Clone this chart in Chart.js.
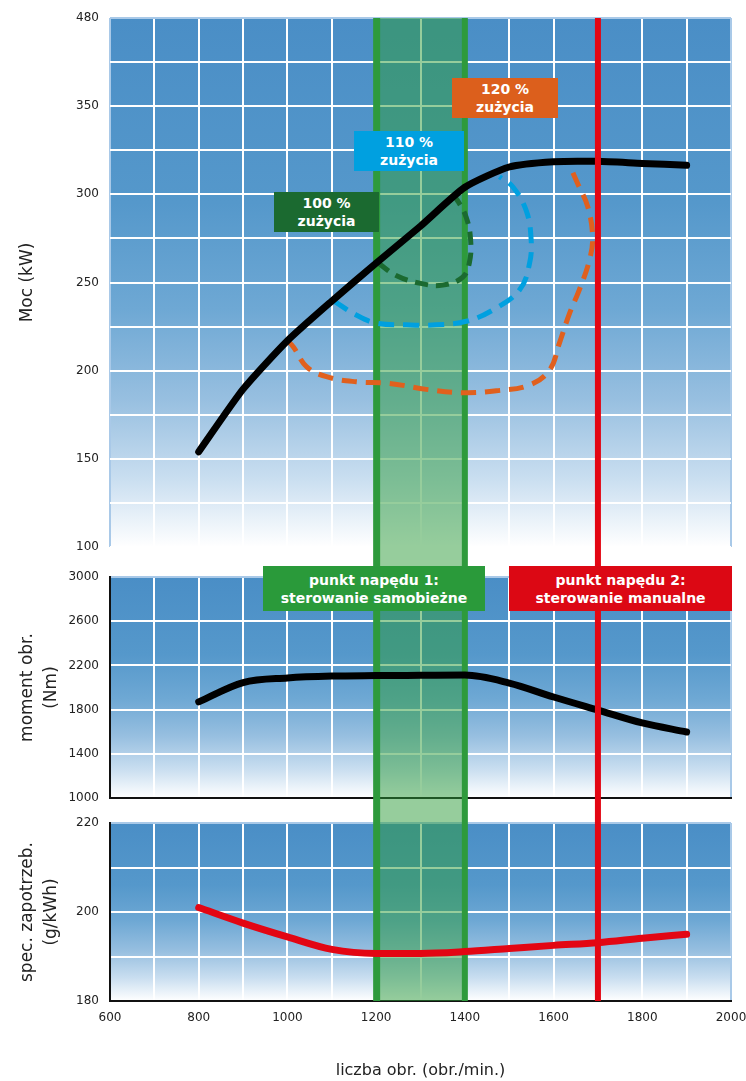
<!DOCTYPE html>
<html>
<head>
<meta charset="utf-8">
<script src="https://cdn.jsdelivr.net/npm/chart.js@4.4.1/dist/chart.umd.min.js"></script>
<style>
  body { margin: 0; background: #fff; }
  #wrap { position: relative; width: 746px; height: 1081px; overflow: hidden; font-family: 'DejaVu Sans', sans-serif; }
  canvas { position: absolute; left: 0; }
  .tag { position: absolute; display: flex; align-items: center; justify-content: center; text-align: center;
         color: #fff; font-weight: bold; font-size: 14px; line-height: 18px; }
</style>
</head>
<body>
<div id="wrap">
  <canvas id="powerChart" width="746" height="562" style="top:0"></canvas>
  <canvas id="torqueChart" width="746" height="248" style="top:562px"></canvas>
  <canvas id="fuelChart" width="746" height="271" style="top:810px"></canvas>

  <div class="tag" style="left:274px;top:192px;width:105px;height:40px;background:#1b6a30">100 %<br>zużycia</div>
  <div class="tag" style="left:354px;top:131px;width:110px;height:40px;background:#00a0e0">110 %<br>zużycia</div>
  <div class="tag" style="left:452px;top:78px;width:106px;height:40px;background:#dc5f1c">120 %<br>zużycia</div>
  <div class="tag" style="left:263px;top:566px;width:222px;height:45px;background:#2a9a3a">punkt napędu 1:<br>sterowanie samobieżne</div>
  <div class="tag" style="left:509px;top:566px;width:223px;height:45px;background:#dc0814">punkt napędu 2:<br>sterowanie manualne</div>
</div>

<script>
// obroty silnika (obr./min.)
const rpm = [800, 900, 1000, 1100, 1200, 1300, 1400, 1500, 1600, 1700, 1800, 1900];
// moc (kW)
const power = [154, 189.5, 217, 239.5, 261, 282, 304, 315.5, 318.5, 318.7, 317.5, 316.5];
// moment obrotowy (Nm)
const torque = [1870, 2045, 2087, 2104, 2108, 2110, 2112, 2040, 1914, 1796, 1679, 1597];
// jednostkowe zuzycie paliwa (g/kWh)
const consumption = [201, 197.5, 194.4, 191.6, 190.7, 190.7, 191.1, 191.8, 192.5, 193.1, 194.1, 195];

// krzywe zuzycia (petle przerywane)
const load100Rpm = [1205, 1245, 1300, 1350, 1395, 1410, 1413, 1403, 1382, 1370];
const load100Kw  = [261, 254, 249.5, 248.5, 253, 261, 274, 287, 297, 300];
const load110Rpm = [1105, 1155, 1200, 1268, 1335, 1403, 1463, 1523, 1546, 1549, 1538, 1508, 1478];
const load110Kw  = [239.5, 231.6, 227, 226, 226, 228, 234.4, 245.7, 261, 276, 291, 304.3, 310];
const load120Rpm = [998, 1013, 1043, 1088, 1155, 1230, 1313, 1395, 1471, 1546, 1591, 1613, 1636, 1658, 1681, 1688, 1677, 1654, 1636];
const load120Kw  = [217.5, 213.6, 202.3, 196.6, 193.7, 192.8, 189.4, 187.5, 188.6, 191.9, 200.4, 215.5, 232.5, 245.8, 262.8, 276, 293, 306.3, 316.6];

// zakres pracy 1 i punkt 2
const driveBand = [1200, 1400];
const drivePoint2 = 1700;

// etykiety osi
const rpmTicks = [600, 800, 1000, 1200, 1400, 1600, 1800, 2000];
const powerTicks = [100, 150, 200, 250, 300, 350, 400];
const powerTickLabels = ['100', '150', '200', '250', '300', '350', '480'];

const pts = (xs, ys) => xs.map((x, i) => ({ x: x, y: ys[i] }));

Chart.defaults.font.family = "'DejaVu Sans', sans-serif";
Chart.defaults.font.size = 12;
Chart.defaults.color = '#222';

const bgStops = [[0, '#4a8ec6'], [0.35, '#5598cb'], [0.55, '#6ea8d4'], [0.72, '#97bfe0'], [0.87, '#c9def0'], [1, '#ffffff']];

const panelPlugin = {
  id: 'panel',
  beforeDraw(chart) {
    const { ctx, chartArea: a } = chart;
    const g = ctx.createLinearGradient(0, a.top, 0, a.bottom);
    bgStops.forEach(s => g.addColorStop(s[0], s[1]));
    ctx.save();
    ctx.fillStyle = g;
    ctx.fillRect(a.left, a.top, a.right - a.left, a.bottom - a.top);
    ctx.restore();
  },
  beforeDatasetsDraw(chart, args, opts) {
    const { ctx, chartArea: a } = chart;
    const x = chart.scales.x;
    const y0 = opts.fromTop ? a.top : 0;
    const y1 = opts.toBottom ? a.bottom : chart.height;
    const l = x.getPixelForValue(driveBand[0]);
    const r = x.getPixelForValue(driveBand[1]);
    ctx.save();
    ctx.fillStyle = 'rgba(46,155,58,0.5)';
    ctx.fillRect(l, y0, r - l, y1 - y0);
    ctx.fillStyle = '#2e9a3c';
    ctx.fillRect(l - 3, y0, 7, y1 - y0);
    ctx.fillRect(r - 3, y0, 6, y1 - y0);
    ctx.restore();
  },
  afterDatasetsDraw(chart, args, opts) {
    const { ctx, chartArea: a } = chart;
    const y0 = opts.fromTop ? a.top : 0;
    const y1 = opts.toBottom ? a.bottom : chart.height;
    const px = chart.scales.x.getPixelForValue(drivePoint2);
    ctx.save();
    ctx.fillStyle = '#e30613';
    ctx.fillRect(px - 3, y0, 6, y1 - y0);
    ctx.restore();
  }
};

const xEdge = (c) => (c.index === 0 || c.index === c.scale.ticks.length - 1) ? '#a9c9e8' : '#ffffff';
const yEdge = (c) => (c.index === c.scale.ticks.length - 1) ? '#a9c9e8' : '#ffffff';

function xAxis(showLabels, height, border) {
  return {
    type: 'linear', min: 600, max: 2000,
    grid: { color: xEdge, lineWidth: 2, drawTicks: false },
    border: border ? { display: true, color: '#111', width: 2 } : { display: false },
    ticks: {
      display: showLabels, stepSize: 100, autoSkip: false, maxRotation: 0, padding: 10,
      callback: v => rpmTicks.includes(v) ? String(v) : ''
    },
    title: showLabels ? { display: true, text: 'liczba obr. (obr./min.)', font: { size: 16 }, padding: { top: 0, bottom: 1 } } : { display: false },
    afterFit: s => { s.height = height; s.paddingLeft = 0; s.paddingRight = 0; }
  };
}

function yAxis(min, max, step, title, labelFn, border) {
  return {
    min: min, max: max,
    grid: { color: yEdge, lineWidth: 2, drawTicks: false },
    border: border ? { display: true, color: '#111', width: 2 } : { display: false },
    ticks: { stepSize: step, padding: 11, autoSkip: false, callback: labelFn },
    title: { display: true, text: title, font: { size: 17, lineHeight: 1.45 }, padding: { top: 15 } },
    afterFit: s => { s.width = 110; s.paddingTop = 0; s.paddingBottom = 0; }
  };
}

const common = {
  responsive: false,
  devicePixelRatio: 1,
  animation: false,
  events: [],
  elements: { point: { radius: 0 } }
};

new Chart(document.getElementById('powerChart'), {
  type: 'line',
  data: {
    datasets: [
      { data: pts(rpm, power), borderColor: '#000', borderWidth: 7, borderCapStyle: 'round', tension: 0.2 },
      { data: pts(load100Rpm, load100Kw), borderColor: '#1b6a30', borderWidth: 5, borderDash: [13, 8], tension: 0.4 },
      { data: pts(load110Rpm, load110Kw), borderColor: '#00a0e0', borderWidth: 5, borderDash: [16, 9], tension: 0.4 },
      { data: pts(load120Rpm, load120Kw), borderColor: '#e0601e', borderWidth: 5, borderDash: [15, 9], tension: 0.4 }
    ]
  },
  options: Object.assign({}, common, {
    layout: { padding: { top: 18, right: 15, bottom: 15, left: 0 } },
    plugins: { legend: { display: false }, tooltip: { enabled: false }, panel: { fromTop: true, toBottom: false } },
    scales: {
      x: xAxis(false, 0, false),
      y: yAxis(100, 400, 25, 'Moc (kW)', v => {
        const i = powerTicks.indexOf(v);
        return i >= 0 ? powerTickLabels[i] : '';
      }, false)
    }
  }),
  plugins: [panelPlugin]
});

new Chart(document.getElementById('torqueChart'), {
  type: 'line',
  data: {
    datasets: [
      { data: pts(rpm, torque), borderColor: '#000', borderWidth: 7, borderCapStyle: 'round', cubicInterpolationMode: 'monotone' }
    ]
  },
  options: Object.assign({}, common, {
    layout: { padding: { top: 15, right: 15, bottom: 12, left: 0 } },
    plugins: { legend: { display: false }, tooltip: { enabled: false }, panel: { fromTop: false, toBottom: false } },
    scales: {
      x: xAxis(false, 0, true),
      y: yAxis(1000, 3000, 400, ['moment obr.', '(Nm)'], v => String(v), true)
    }
  }),
  plugins: [panelPlugin]
});

new Chart(document.getElementById('fuelChart'), {
  type: 'line',
  data: {
    datasets: [
      { data: pts(rpm, consumption), borderColor: '#e30613', borderWidth: 7, borderCapStyle: 'round', cubicInterpolationMode: 'monotone' }
    ]
  },
  options: Object.assign({}, common, {
    layout: { padding: { top: 13, right: 15, bottom: 0, left: 0 } },
    plugins: { legend: { display: false }, tooltip: { enabled: false }, panel: { fromTop: false, toBottom: true } },
    scales: {
      x: xAxis(true, 80, true),
      y: yAxis(180, 220, 10, ['spec. zapotrzeb.', '(g/kWh)'], v => (v % 20 === 0 ? String(v) : ''), true)
    }
  }),
  plugins: [panelPlugin]
});
</script>
</body>
</html>
